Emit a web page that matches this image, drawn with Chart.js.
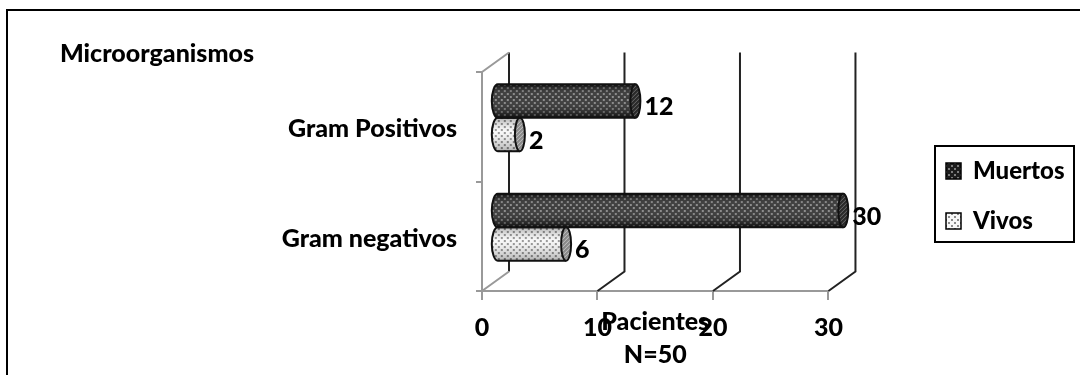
<!DOCTYPE html>
<html>
<head>
<meta charset="utf-8">
<script src="https://cdn.jsdelivr.net/npm/chart.js@4"></script>
<style>
  html, body { margin: 0; background: #fff; }
  #wrap { width: 1080px; height: 375px; }
</style>
</head>
<body>
<div id="wrap"><canvas id="chart" width="1080" height="375"></canvas></div>
<script>
const categories = ["Gram Positivos", "Gram negativos"];
const muertos = [12, 30];
const vivos = [2, 6];
const xTicks = [0, 10, 20, 30];
const yAxisTitle = "Microorganismos";
const xAxisTitle = ["Pacientes", "N=50"];

const FONT = "Lato, Carlito, sans-serif";
const FONT_SIZE = 25;

// depth of the fake 3D box, and where the bars sit inside it
const depthX = 27, depthY = -19.5;
const barShiftX = 14.8, barShiftY = -9;

const patternCtx = document.createElement("canvas").getContext("2d");

function makeDots(bg, dot, step, size) {
  const c = document.createElement("canvas");
  c.width = step;
  c.height = step;
  const p = c.getContext("2d");
  p.fillStyle = bg;
  p.fillRect(0, 0, step, step);
  p.fillStyle = dot;
  p.fillRect(0, 0, size, size);
  p.fillRect(step / 2, step / 2, size, size);
  return patternCtx.createPattern(c, "repeat");
}

function makeStripes(bg, line) {
  const c = document.createElement("canvas");
  c.width = 4;
  c.height = 4;
  const p = c.getContext("2d");
  p.fillStyle = bg;
  p.fillRect(0, 0, 4, 4);
  p.strokeStyle = line;
  p.beginPath();
  p.moveTo(-1, 1);
  p.lineTo(1, -1);
  p.moveTo(0, 4);
  p.lineTo(4, 0);
  p.moveTo(3, 5);
  p.lineTo(5, 3);
  p.stroke();
  return patternCtx.createPattern(c, "repeat");
}

const darkFill = makeDots("#1c1c1c", "#7c7c7c", 6, 2);
const lightFill = makeDots("#f8f8f8", "#8c8c8c", 6, 2);
const darkCap = makeStripes("#2a2a2a", "#6a6a6a");
const lightCap = makeStripes("#8a8a8a", "#c4c4c4");

// back wall lines and the floor diagonals, behind everything
const wallPlugin = {
  id: "wall",
  beforeDatasetsDraw(chart) {
    const ctx = chart.ctx, x = chart.scales.x, area = chart.chartArea;
    ctx.save();
    ctx.lineWidth = 2;
    xTicks.forEach(v => {
      const px = x.getPixelForValue(v);
      ctx.strokeStyle = "#222";
      ctx.beginPath();
      ctx.moveTo(px + depthX, area.top + depthY);
      ctx.lineTo(px + depthX, area.bottom + depthY);
      if (v > 0) ctx.lineTo(px, area.bottom);
      ctx.stroke();
    });
    const px0 = x.getPixelForValue(0);
    ctx.strokeStyle = "#999";
    ctx.beginPath();
    ctx.moveTo(px0, area.top);
    ctx.lineTo(px0 + depthX, area.top + depthY);
    ctx.moveTo(px0, area.bottom);
    ctx.lineTo(px0 + depthX, area.bottom + depthY);
    ctx.stroke();
    ctx.restore();
    ctx.save();
    ctx.translate(barShiftX, barShiftY);
  },
  afterDatasetsDraw(chart) {
    chart.ctx.restore();
  }
};

// turns the flat bars into cylinders
const cylinderPlugin = {
  id: "cylinder",
  afterDatasetDraw(chart, args) {
    const ctx = chart.ctx;
    const ds = chart.data.datasets[args.index];
    args.meta.data.forEach(bar => {
      const top = bar.y - bar.height / 2;
      const bottom = top + bar.height;
      const ry = bar.height / 2;
      const grad = ctx.createLinearGradient(0, top, 0, bottom);
      grad.addColorStop(0, ds.shade);
      grad.addColorStop(0.4, "rgba(255,255,255,0.14)");
      grad.addColorStop(1, ds.shade);
      ctx.save();
      ctx.lineWidth = 2;
      ctx.strokeStyle = "#111";
      ctx.beginPath();
      ctx.moveTo(bar.x, top);
      ctx.lineTo(bar.base, top);
      ctx.ellipse(bar.base, bar.y, 6, ry, 0, -Math.PI / 2, -Math.PI * 1.5, true);
      ctx.lineTo(bar.x, bottom);
      ctx.fillStyle = ds.backgroundColor;
      ctx.fill();
      ctx.fillStyle = grad;
      ctx.fill();
      ctx.stroke();
      ctx.beginPath();
      ctx.ellipse(bar.x, bar.y, 5, ry, 0, 0, Math.PI * 2);
      ctx.fillStyle = ds.capFill;
      ctx.fill();
      ctx.stroke();
      ctx.restore();
    });
  }
};

// value labels, axis titles, and the legend frame
const textPlugin = {
  id: "texts",
  afterLayout(chart) {
    const l = chart.legend;
    l.left = 920;
    l.right = 1074;
    l.top = 133;
    l.bottom = 375;
  },
  afterDraw(chart) {
    const ctx = chart.ctx, x = chart.scales.x;
    ctx.save();
    ctx.fillStyle = "#000";
    ctx.font = "900 " + FONT_SIZE + "px " + FONT;
    ctx.textBaseline = "middle";
    chart.data.datasets.forEach((ds, i) => {
      chart.getDatasetMeta(i).data.forEach((bar, j) => {
        ctx.textAlign = "left";
        ctx.fillText(ds.data[j], bar.x + barShiftX + 9, bar.y + barShiftY + 6);
      });
    });
    ctx.textAlign = "left";
    ctx.fillText(yAxisTitle, 60, 54);
    ctx.textAlign = "center";
    const mid = (x.left + x.right) / 2;
    ctx.fillText(xAxisTitle[0], mid, 322);
    ctx.fillText(xAxisTitle[1], mid, 355);
    ctx.strokeStyle = "#000";
    ctx.lineWidth = 2;
    ctx.strokeRect(935, 146, 139, 96);
    // outer frame of the picture, only top and left show
    ctx.beginPath();
    ctx.moveTo(7, 375);
    ctx.lineTo(7, 10);
    ctx.lineTo(1080, 10);
    ctx.stroke();
    ctx.restore();
  }
};

const labelFont = { family: FONT, size: FONT_SIZE, weight: "900" };

new Chart(document.getElementById("chart"), {
  type: "bar",
  data: {
    labels: categories,
    datasets: [
      { label: "Muertos", data: muertos, backgroundColor: darkFill, capFill: darkCap, shade: "rgba(0,0,0,0.5)", borderWidth: 0, clip: false },
      { label: "Vivos", data: vivos, backgroundColor: lightFill, capFill: lightCap, shade: "rgba(0,0,0,0.28)", borderWidth: 0, clip: false }
    ]
  },
  options: {
    indexAxis: "y",
    responsive: false,
    animation: false,
    categoryPercentage: 0.61,
    barPercentage: 1,
    layout: { padding: { top: 72, right: 97, bottom: 0, left: 0 } },
    scales: {
      x: {
        min: 0,
        max: 30,
        afterBuildTicks(scale) { scale.ticks = xTicks.map(value => ({ value })); },
        afterFit(scale) { scale.height = 84; },
        grid: { drawOnChartArea: false, color: "#999", lineWidth: 2, tickLength: 9 },
        border: { color: "#999", width: 2 },
        ticks: { color: "#000", padding: 13, maxRotation: 0, font: labelFont }
      },
      y: {
        afterFit(scale) { scale.width = 482; },
        grid: { drawOnChartArea: false, color: "#999", lineWidth: 2, tickLength: 6 },
        border: { color: "#999", width: 2 },
        ticks: { color: "#000", padding: 19, labelOffset: 2.5, font: labelFont }
      }
    },
    plugins: {
      title: { display: false },
      tooltip: { enabled: false },
      legend: {
        position: "right",
        align: "start",
        labels: {
          color: "#000",
          boxWidth: 15,
          boxHeight: 16,
          padding: 26,
          font: { family: FONT, size: 24, weight: "900" },
          generateLabels(chart) {
            return Chart.defaults.plugins.legend.labels.generateLabels(chart).map(item => ({ ...item, lineWidth: 1.5, strokeStyle: "#000" }));
          }
        }
      }
    }
  },
  plugins: [wallPlugin, cylinderPlugin, textPlugin]
});
</script>
</body>
</html>
